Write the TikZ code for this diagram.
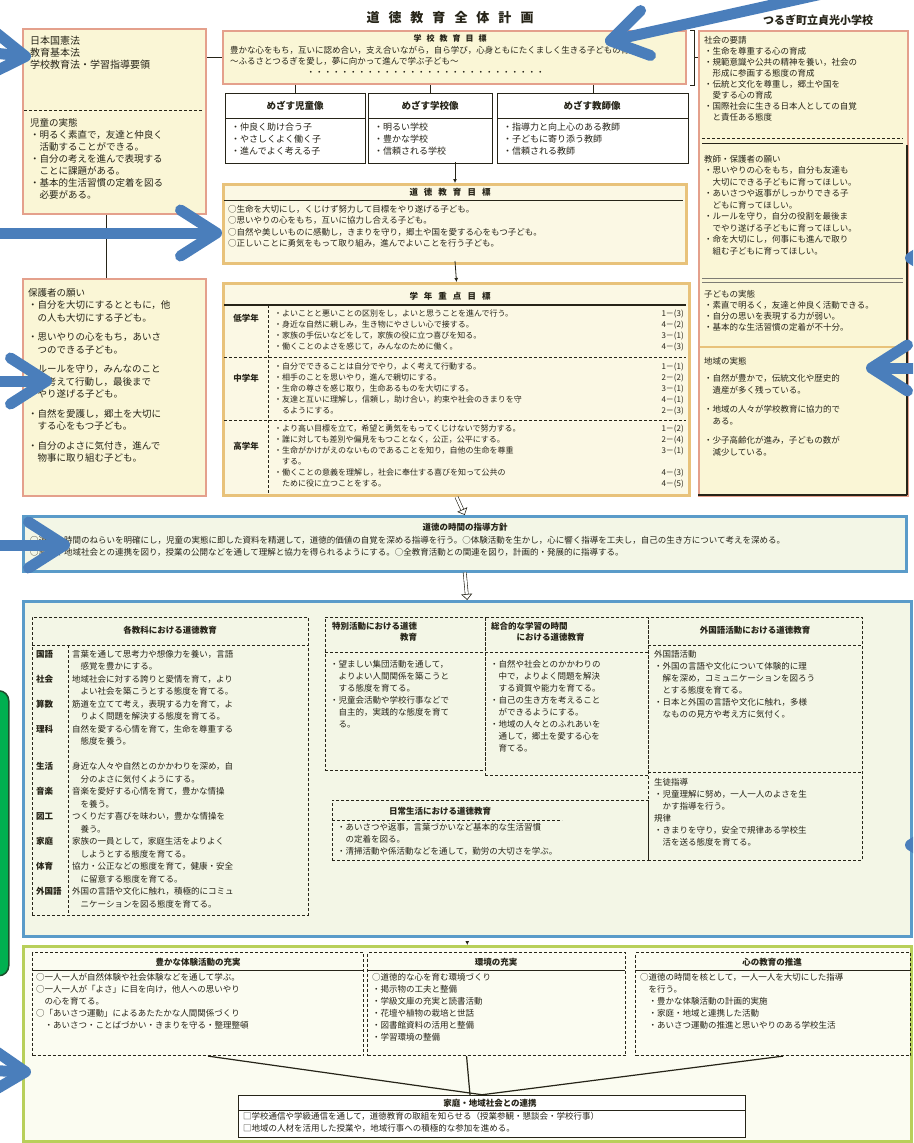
\documentclass[tikz,border=0pt]{standalone}
\usepackage{fontspec}
\setmainfont{Noto Sans CJK JP}
\usetikzlibrary{arrows.meta}
\definecolor{salmon}{HTML}{E4A08C}
\definecolor{paleyel}{HTML}{FAF6D6}
\definecolor{paleyel2}{HTML}{FBF8E4}
\definecolor{tanline}{HTML}{E8C27A}
\definecolor{boxblue}{HTML}{5A9BC9}
\definecolor{palegreen}{HTML}{F3F6E6}
\definecolor{ygreen}{HTML}{B8CF5A}
\definecolor{palegreen2}{HTML}{FBFCF1}
\definecolor{arrowblue}{HTML}{4A7EBB}
\definecolor{notegreen}{HTML}{00B050}
\definecolor{notedark}{HTML}{1E4D2B}
\definecolor{ink}{HTML}{262418}
\newcommand\fsz[2]{\fontsize{#1}{#2}\selectfont}
\tikzset{
 txt/.style={anchor=north west, inner sep=0pt, align=left, text=ink},
 hdr/.style={inner sep=0pt, text=ink, font=\bfseries\fsz{8.5}{10}},
 redbox/.style={anchor=north west, draw=salmon, line width=2.2pt, fill=paleyel, inner sep=0pt},
 tanbox/.style={anchor=north west, draw=tanline, line width=3pt, fill=paleyel2, inner sep=0pt},
 blkbox/.style={anchor=north west, draw=ink, line width=1pt, fill=white, inner sep=0pt},
 bluebox/.style={anchor=north west, draw=boxblue, line width=2.5pt, fill=palegreen, inner sep=0pt},
 dbox/.style={anchor=north west, draw=ink, line width=0.9pt, densely dashed, inner sep=0pt},
 greenbox/.style={anchor=north west, draw=ygreen, line width=2.5pt, fill=palegreen2, inner sep=0pt},
 dline/.style={draw=ink, line width=0.8pt, densely dashed},
 sline/.style={draw=ink, line width=0.9pt},
 barrow/.style={draw=arrowblue, line width=11pt, -{Straight Barb[length=36pt,width=46pt,round]}},
 flowarrow/.style={draw=ink, line width=0.8pt, -{Latex[length=4pt,width=4pt]}},
 openarrow/.style={draw=ink, double=white, double distance=2.5pt, line width=0.6pt, -{Triangle[open,length=6pt,width=11pt]}},
}
\begin{document}
\begin{tikzpicture}[x=1pt,y=-1pt]
\path[use as bounding box] (0,0) rectangle (913,1143);
\clip (0,0) rectangle (913,1143);
\fill[white] (0,0) rectangle (913,1143);

% ---------- titles
\node[inner sep=0pt, text=ink, font=\bfseries\fsz{13}{13}] (title) at (450,18) {道\hskip9pt 徳\hskip9pt 教\hskip9pt 育\hskip9pt 全\hskip9pt 体\hskip9pt 計\hskip9pt 画};
\node[inner sep=0pt, text=ink, font=\bfseries\fsz{11}{11}] (school) at (818,20) {つるぎ町立貞光小学校};

% ---------- left column
\node[redbox, minimum width=183, minimum height=185] (law) at (22,28) {};
\node[txt, font=\fsz{10}{12}] (lawtxt) at (30,36) {日本国憲法\\教育基本法\\学校教育法・学習指導要領};
\draw[dline] (24,110) -- (203,110);
\node[txt, font=\fsz{9.5}{12}] (jitai) at (30,118) {児童の実態\\・明るく素直で，友達と仲良く\\　活動することができる。\\・自分の考えを進んで表現する\\　ことに課題がある。\\・基本的生活習慣の定着を図る\\　必要がある。};

\node[redbox, minimum width=183, minimum height=217] (home) at (22,278) {};
\node[txt, font=\fsz{9.5}{12.5}] (hometxt) at (28,288) {保護者の願い\\・自分を大切にするとともに，他\\　の人も大切にする子ども。\\[7pt]・思いやりの心をもち，あいさ\\　つのできる子ども。\\[7pt]・ルールを守り，みんなのこと\\　を考えて行動し，最後まで\\　やり遂げる子ども。\\[7pt]・自然を愛護し，郷土を大切に\\　する心をもつ子ども。\\[7pt]・自分のよさに気付き，進んで\\　物事に取り組む子ども。};
\draw[sline] ([xshift=-8pt]law.south) -- ([xshift=-8pt]home.north);

% ---------- school aim
\node[redbox, fill=paleyel, minimum width=463, minimum height=53] (aim) at (222,30) {};
\node[hdr, font=\bfseries\fsz{8}{9}] (aimh) at (450,38) {学\hskip5pt 校\hskip5pt 教\hskip5pt 育\hskip5pt 目\hskip5pt 標};
\node[txt, font=\fsz{8.5}{11}] (aimtxt) at (230,46) {豊かな心をもち，互いに認め合い，支え合いながら，自ら学び，心身ともにたくましく生きる子どもの育成\\〜ふるさとつるぎを愛し，夢に向かって進んで学ぶ子ども〜\\　　　　　　　　　・・・・・・・・・・・・・・・・・・・・・・・・・・・・};
\draw[sline] (aim.west -| law.east) -- (aim.west);

% ---------- right column
\node[redbox, minimum width=209, minimum height=465] (ctx) at (698,30) {};
\draw[sline] ([xshift=3pt]aim.north east) -- ([xshift=7pt]aim.north east) -- ([xshift=7pt]aim.south east) -- ([xshift=3pt]aim.south east);
\draw[sline] ([xshift=7pt]aim.east) -- (aim.east -| ctx.west);
\node[txt, font=\fsz{8.5}{11}] (ctx1) at (704,36) {社会の要請\\・生命を尊重する心の育成\\・規範意識や公共の精神を養い，社会の\\　形成に参画する態度の育成\\・伝統と文化を尊重し，郷土や国を\\　愛する心の育成\\・国際社会に生きる日本人としての自覚\\　と責任ある態度};
\draw[dline] (702,138) -- (903,138);
\draw[sline, line width=0.5pt] (702,143) -- (903,143);
\node[txt, font=\fsz{8.5}{11.5}] (ctx2) at (704,155) {教師・保護者の願い\\・思いやりの心をもち，自分も友達も\\　大切にできる子どもに育ってほしい。\\・あいさつや返事がしっかりできる子\\　どもに育ってほしい。\\・ルールを守り，自分の役割を最後ま\\　でやり遂げる子どもに育ってほしい。\\・命を大切にし，何事にも進んで取り\\　組む子どもに育ってほしい。};
\draw[draw=ink!60, line width=0.5pt] (702,278) -- (903,278);
\draw[draw=ink!60, line width=0.5pt] (702,282) -- (903,282);
\node[txt, font=\fsz{8.5}{11}] (ctx3) at (704,290) {子どもの実態\\・素直で明るく，友達と仲良く活動できる。\\・自分の思いを表現する力が弱い。\\・基本的な生活習慣の定着が不十分。};
\draw[draw=tanline, line width=2.5pt] (700,347) -- (905,347);
\node[txt, font=\fsz{8.5}{11.5}] (ctx4) at (704,357) {地域の実態\\[6pt]・自然が豊かで，伝統文化や歴史的\\　遺産が多く残っている。\\[8pt]・地域の人々が学校教育に協力的で\\　ある。\\[8pt]・少子高齢化が進み，子どもの数が\\　減少している。};
\draw[sline, line width=1.5pt] (698,495) -- (907,495);
\draw[sline, line width=1.2pt] (907,145) -- (907,495);

% ---------- three images
\node[blkbox, minimum width=140, minimum height=70] (child) at (225,93) {};
\node[blkbox, minimum width=124, minimum height=70] (schl) at (368,93) {};
\node[blkbox, minimum width=191, minimum height=70] (tchr) at (497,93) {};
\draw[sline] (child.west |- 0,118) -- (child.east |- 0,118);
\draw[sline] (schl.west |- 0,118) -- (schl.east |- 0,118);
\draw[sline] (tchr.west |- 0,118) -- (tchr.east |- 0,118);
\node[hdr, font=\bfseries\fsz{9.5}{10}] (childh) at (295,106) {めざす児童像};
\node[hdr, font=\bfseries\fsz{9.5}{10}] (schlh) at (430,106) {めざす学校像};
\node[hdr, font=\bfseries\fsz{9.5}{10}] (tchrh) at (592,106) {めざす教師像};
\node[txt, font=\fsz{9}{12}] (childt) at (231,123) {・仲良く助け合う子\\・やさしくよく働く子\\・進んでよく考える子};
\node[txt, font=\fsz{9}{12}] (schlt) at (374,123) {・明るい学校\\・豊かな学校\\・信頼される学校};
\node[txt, font=\fsz{9}{12}] (tchrt) at (503,123) {・指導力と向上心のある教師\\・子どもに寄り添う教師\\・信頼される教師};
\draw[sline, line width=0.6pt] (child.north) -- (child.north |- aim.south);
\draw[sline, line width=0.6pt] (schl.north) -- (schl.north |- aim.south);
\draw[sline, line width=0.6pt] (tchr.north) -- (tchr.north |- aim.south);

% ---------- moral goal
\node[tanbox, minimum width=463, minimum height=79] (goal) at (222,183) {};
\node[hdr] (goalh) at (450,192) {道\hskip6pt 徳\hskip6pt 教\hskip6pt 育\hskip6pt 目\hskip6pt 標};
\draw[sline] (224,200) -- (683,200);
\node[txt, font=\fsz{8.5}{11.5}] (goalt) at (228,205) {○生命を大切にし，くじけず努力して目標をやり遂げる子ども。\\○思いやりの心をもち，互いに協力し合える子ども。\\○自然や美しいものに感動し，きまりを守り，郷土や国を愛する心をもつ子ども。\\○正しいことに勇気をもって取り組み，進んでよいことを行う子ども。};
\draw[flowarrow] ([yshift=2pt]child.south -| goal.north) -- (goal.north);

% ---------- grade goals
\node[tanbox, minimum width=466, minimum height=212] (grade) at (222,282) {};
\node[hdr] (gradeh) at (450,296) {学\hskip6pt 年\hskip6pt 重\hskip6pt 点\hskip6pt 目\hskip6pt 標};
\draw[sline, line width=1.2pt] (224,305) -- (686,305);
\draw[dline] (268,305) -- (268,493);
\draw[dline] (224,357) -- (686,357);
\draw[dline] (224,420) -- (686,420);
\node[hdr, font=\bfseries\fsz{8.5}{10}] (low) at (246,318) {低学年};
\node[hdr, font=\bfseries\fsz{8.5}{10}] (mid) at (246,378) {中学年};
\node[hdr, font=\bfseries\fsz{8.5}{10}] (high) at (246,446) {高学年};
\node[txt, font=\fsz{8}{11}] (lowt) at (274,310) {・よいことと悪いことの区別をし，よいと思うことを進んで行う。\\・身近な自然に親しみ，生き物にやさしい心で接する。\\・家族の手伝いなどをして，家族の役に立つ喜びを知る。\\・働くことのよさを感じて，みんなのために働く。};
\node[txt, font=\fsz{8}{11}] (midt) at (274,363) {・自分でできることは自分でやり，よく考えて行動する。\\・相手のことを思いやり，進んで親切にする。\\・生命の尊さを感じ取り，生命あるものを大切にする。\\・友達と互いに理解し，信頼し，助け合い，約束や社会のきまりを守\\　るようにする。};
\node[txt, font=\fsz{8}{11}] (hight) at (274,425) {・より高い目標を立て，希望と勇気をもってくじけないで努力する。\\・誰に対しても差別や偏見をもつことなく，公正，公平にする。\\・生命がかけがえのないものであることを知り，自他の生命を尊重\\　する。\\・働くことの意義を理解し，社会に奉仕する喜びを知って公共の\\　ために役に立つことをする。};
\node[anchor=north east, inner sep=0pt, align=right, text=ink, font=\fsz{8}{11}] (lown) at (684,310) {1－(3)\\4－(2)\\3－(1)\\4－(3)};
\node[anchor=north east, inner sep=0pt, align=right, text=ink, font=\fsz{8}{11}] (midn) at (684,363) {1－(1)\\2－(2)\\3－(1)\\4－(1)\\2－(3)};
\node[anchor=north east, inner sep=0pt, align=right, text=ink, font=\fsz{8}{11}] (highn) at (684,425) {1－(2)\\2－(4)\\3－(1)\\\mbox{}\\4－(3)\\4－(5)};
\draw[flowarrow] ([yshift=4pt]goal.south) -- (grade.north);

% ---------- policy
\node[bluebox, minimum width=883, minimum height=55] (policy) at (22,515) {};
\node[hdr] (policyh) at (465,527) {道徳の時間の指導方針};
\node[txt, font=\fsz{8.5}{12}] (policyt) at (30,536) {○道徳の時間のねらいを明確にし，児童の実態に即した資料を精選して，道徳的価値の自覚を深める指導を行う。○体験活動を生かし，心に響く指導を工夫し，自己の生き方について考えを深める。\\○家庭や地域社会との連携を図り，授業の公開などを通して理解と協力を得られるようにする。○全教育活動との関連を図り，計画的・発展的に指導する。};
\draw[openarrow] (grade.south) -- (policy.north);

% ---------- activities
\node[bluebox, minimum width=888, minimum height=335] (act) at (22,600) {};
\draw[openarrow] (policy.south) -- (act.north);
\node[dbox, minimum width=276, minimum height=298] (subj) at (32,617) {};
\node[hdr, font=\bfseries\fsz{8.5}{10}] (subjh) at (170,630) {各教科における道徳教育};
\draw[dline] (32,645) -- (308,645);
\draw[dline] (68,645) -- (68,915);
\node[txt, font=\bfseries\fsz{8.5}{12.5}] (subjl) at (36,650) {国語\\\mbox{}\\社会\\\mbox{}\\算数\\\mbox{}\\理科\\\mbox{}\\\mbox{}\\生活\\\mbox{}\\音楽\\\mbox{}\\図工\\\mbox{}\\家庭\\\mbox{}\\体育\\\mbox{}\\外国語};
\node[txt, font=\fsz{8.5}{12.5}] (subjt) at (72,650) {言葉を通して思考力や想像力を養い，言語\\　感覚を豊かにする。\\地域社会に対する誇りと愛情を育て，より\\　よい社会を築こうとする態度を育てる。\\筋道を立てて考え，表現する力を育て，よ\\　りよく問題を解決する態度を育てる。\\自然を愛する心情を育て，生命を尊重する\\　態度を養う。\\\mbox{}\\身近な人々や自然とのかかわりを深め，自\\　分のよさに気付くようにする。\\音楽を愛好する心情を育て，豊かな情操\\　を養う。\\つくりだす喜びを味わい，豊かな情操を\\　養う。\\家族の一員として，家庭生活をよりよく\\　しようとする態度を育てる。\\協力・公正などの態度を育て，健康・安全\\　に留意する態度を育てる。\\外国の言語や文化に触れ，積極的にコミュ\\　ニケーションを図る態度を育てる。};

\node[dbox, minimum width=160, minimum height=153] (tokkatsu) at (325,617) {};
\node[txt, font=\bfseries\fsz{8.5}{11}] (tokkatsuh) at (332,622) {特別活動における道徳\\　　　　　　　　教育};
\draw[dline] (325,652) -- (485,652);
\node[txt, font=\fsz{8.5}{12}] (tokkatsut) at (330,660) {・望ましい集団活動を通して，\\　よりよい人間関係を築こうと\\　する態度を育てる。\\・児童会活動や学校行事などで\\　自主的，実践的な態度を育て\\　る。};

\node[dbox, minimum width=163, minimum height=158] (sogo) at (485,617) {};
\node[txt, font=\bfseries\fsz{8.5}{11}] (sogoh) at (491,622) {総合的な学習の時間\\　　　における道徳教育};
\draw[dline] (485,652) -- (648,652);
\node[txt, font=\fsz{8.5}{12}] (sogot) at (490,660) {・自然や社会とのかかわりの\\　中で，よりよく問題を解決\\　する資質や能力を育てる。\\・自己の生き方を考えること\\　ができるようにする。\\・地域の人々とのふれあいを\\　通して，郷土を愛する心を\\　育てる。};

\node[dbox, minimum width=214, minimum height=243] (gaikoku) at (648,617) {};
\node[hdr, font=\bfseries\fsz{8.5}{10}] (gaikokuh) at (755,630) {外国語活動における道徳教育};
\draw[dline] (648,645) -- (862,645);
\node[txt, font=\fsz{8.5}{12}] (gaikokut) at (654,650) {外国語活動\\・外国の言語や文化について体験的に理\\　解を深め，コミュニケーションを図ろう\\　とする態度を育てる。\\・日本と外国の言語や文化に触れ，多様\\　なものの見方や考え方に気付く。};
\draw[dline] (648,772) -- (862,772);
\node[txt, font=\fsz{8.5}{12}] (shidot) at (654,778) {生徒指導\\・児童理解に努め，一人一人のよさを生\\　かす指導を行う。\\規律\\・きまりを守り，安全で規律ある学校生\\　活を送る態度を育てる。};

\node[dbox, minimum width=316, minimum height=60] (nichijo) at (332,800) {};
\node[hdr, font=\bfseries\fsz{8.5}{10}] (nichijoh) at (440,811) {日常生活における道徳教育};
\draw[dline] (332,820) -- (562,820);
\node[txt, font=\fsz{8.5}{12}] (nichijot) at (337,823) {・あいさつや返事，言葉づかいなど基本的な生活習慣\\　の定着を図る。\\・清掃活動や係活動などを通して，勤労の大切さを学ぶ。};

% ---------- home / community link
\node[greenbox, minimum width=888, minimum height=195] (link) at (22,945) {};
\draw[flowarrow] ([yshift=-4pt]act.south) -- (link.north);
\node[dbox, densely dashed, line width=1.1pt, minimum width=331, minimum height=103] (exp) at (32,952) {};
\node[hdr] (exph) at (198,962) {豊かな体験活動の充実};
\draw[sline] (32,970) -- (363,970);
\node[txt, font=\fsz{8.5}{12}] (expt) at (36,973) {○一人一人が自然体験や社会体験などを通して学ぶ。\\○一人一人が「よさ」に目を向け，他人への思いやり\\　の心を育てる。\\○「あいさつ運動」によるあたたかな人間関係づくり\\　・あいさつ・ことばづかい・きまりを守る・整理整頓};
\node[dbox, densely dashed, line width=1.1pt, minimum width=258, minimum height=103] (env) at (367,952) {};
\node[hdr] (envh) at (496,962) {環境の充実};
\draw[sline] (367,970) -- (625,970);
\node[txt, font=\fsz{8.5}{12}] (envt) at (372,973) {○道徳的な心を育む環境づくり\\・掲示物の工夫と整備\\・学級文庫の充実と読書活動\\・花壇や植物の栽培と世話\\・図書館資料の活用と整備\\・学習環境の整備};
\node[dbox, densely dashed, line width=1.1pt, minimum width=275, minimum height=103] (heart) at (635,952) {};
\node[hdr] (hearth) at (772,962) {心の教育の推進};
\draw[sline] (635,970) -- (910,970);
\node[txt, font=\fsz{8.5}{12}] (heartt) at (640,973) {○道徳の時間を核として，一人一人を大切にした指導\\　を行う。\\　・豊かな体験活動の計画的実施\\　・家庭・地域と連携した活動\\　・あいさつ運動の推進と思いやりのある学校生活};
\node[blkbox, fill=white, minimum width=507, minimum height=42] (fam) at (238,1095) {};
\node[hdr] (famh) at (490,1103) {家庭・地域社会との連携};
\draw[sline] (238,1110) -- (745,1110);
\node[txt, font=\fsz{8.5}{12}] (famt) at (243,1112) {□学校通信や学級通信を通して，道徳教育の取組を知らせる（授業参観・懇談会・学校行事）\\□地域の人材を活用した授業や，地域行事への積極的な参加を進める。};
\draw[sline, line width=1.2pt] ([xshift=10pt]exp.south) -- ([xshift=-8pt]fam.north);
\draw[sline, line width=1.2pt] ([xshift=-30pt]env.south) -- ([xshift=-22pt]fam.north);
\draw[sline, line width=1.2pt] ([xshift=10pt]heart.south) -- ([xshift=-12pt]fam.north);

% ---------- overlay annotations
\node[anchor=north west, draw=notedark, line width=1.5pt, fill=notegreen, rounded corners=10pt, minimum width=38, minimum height=285] (note) at (-30,690) {};
\coordinate (a1s) at (-80,45);  \coordinate (a1e) at (31,57);
\coordinate (a2s) at (-15,233); \coordinate (a2e) at (222,233);
\coordinate (a3s) at (-15,381); \coordinate (a3e) at (52,381);
\coordinate (a4s) at (-15,545); \coordinate (a4e) at (70,545);
\coordinate (a5s) at (840,-10); \coordinate (a5e) at (605,42);
\coordinate (a6s) at (990,258); \coordinate (a6e) at (905,258);
\coordinate (a7s) at (990,368); \coordinate (a7e) at (866,368);
\coordinate (a8s) at (990,845); \coordinate (a8e) at (905,845);
\coordinate (a9s) at (-80,1068); \coordinate (a9e) at (31,1072);
\foreach \i in {1,...,9} { \draw[barrow] (a\i s) -- (a\i e); }
\end{tikzpicture}
\end{document}
